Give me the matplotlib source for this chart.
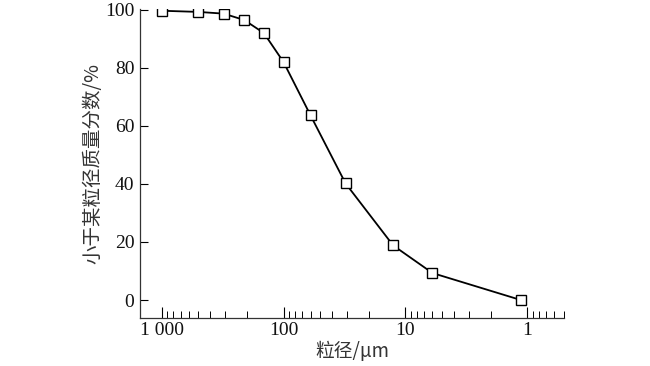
import matplotlib
matplotlib.use('Agg')
import matplotlib.pyplot as plt
from matplotlib.ticker import FixedLocator, LogLocator, NullFormatter

# particle size (um) and cumulative mass fraction smaller than size (%)
size_um = [1000, 500, 310, 210, 145, 100, 60, 31, 12.6, 6.0, 1.13]
passing = [99.7, 99.3, 98.7, 96.5, 92.0, 82.0, 63.6, 40.2, 18.8, 9.3, 0.0]

x_ticks = [1000, 100, 10, 1]
x_labels = ['1 000', '100', '10', '1']
y_ticks = [0, 20, 40, 60, 80, 100]

serif = ['Liberation Serif', 'DejaVu Serif']
cjk = ['Noto Sans CJK SC', 'Liberation Serif', 'DejaVu Sans']

fig = plt.figure(figsize=(6.5, 3.66), dpi=100)
ax = fig.add_axes([0.2154, 0.1311, 0.6523, 0.8443])

ax.plot(size_um, passing, color='black', lw=1.3, marker='s', ms=6.5,
        mfc='white', mec='black', mew=1.0)

ax.set_xscale('log')
ax.set_xlim(1506, 0.5)
ax.set_ylim(-6.2, 100.3)

ax.xaxis.set_major_locator(FixedLocator(x_ticks))
ax.set_xticklabels(x_labels)
ax.xaxis.set_minor_locator(LogLocator(base=10, subs=range(2, 10)))
ax.xaxis.set_minor_formatter(NullFormatter())
ax.set_yticks(y_ticks)

for s in ['top', 'right']:
    ax.spines[s].set_visible(False)
for s in ['left', 'bottom']:
    ax.spines[s].set_linewidth(0.9)
    ax.spines[s].set_color('#333333')

ax.tick_params(axis='x', which='major', direction='in', length=8, width=0.8, pad=3)
ax.tick_params(axis='x', which='minor', direction='in', length=5, width=0.7)
ax.tick_params(axis='y', which='major', direction='in', length=6, width=0.8, pad=4)

for lab in ax.get_xticklabels() + ax.get_yticklabels():
    lab.set_fontfamily(serif)
    lab.set_fontsize(14)
    lab.set_color('#111111')

ax.set_xlabel('粒径/μm', family=cjk, fontsize=13.5, color='#333333', labelpad=1)
ax.set_ylabel('小于某粒径质量分数/%', family=cjk, fontsize=14, color='#333333', labelpad=1)

fig.savefig('out.png', dpi=100)
